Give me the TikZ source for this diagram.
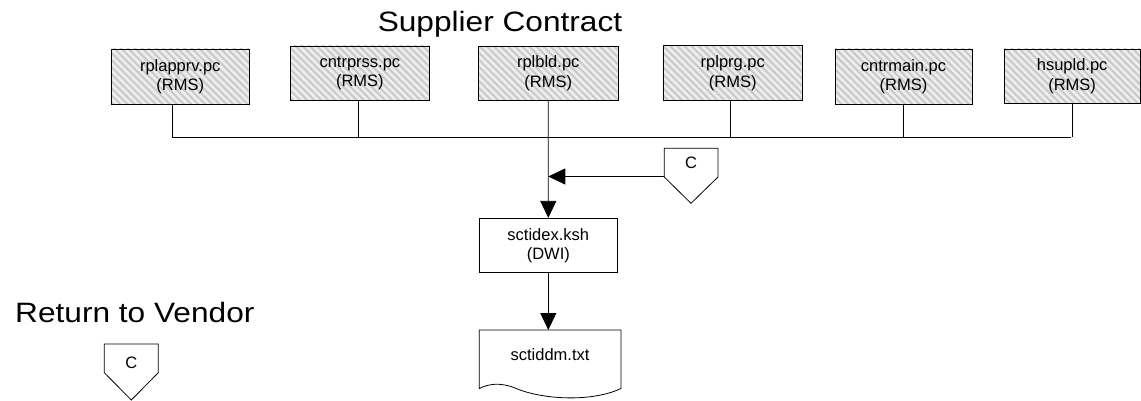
\documentclass[tikz,border=0pt]{standalone}
\usepackage{fontspec}
\setmainfont{Liberation Sans}
\newfontfamily\titlefont[FakeStretch=1.13]{Liberation Sans}
\usetikzlibrary{arrows.meta,patterns.meta}
\tikzset{
  x=1pt,y=-1pt,
  lbl/.style={font=\fontsize{16.5}{19.5}\selectfont,align=center,inner sep=0pt},
  ttl/.style={font=\titlefont\fontsize{28}{32}\selectfont,inner sep=0pt},
  hbox/.style={draw,line width=0.8pt,rectangle,inner sep=0pt,
    preaction={fill=gray!14},
    pattern={Lines[angle=-45,distance=5pt,line width=2pt]},pattern color=gray!42},
  pbox/.style={draw,line width=0.8pt,rectangle,inner sep=0pt},
  ln/.style={line width=0.8pt},
  arr/.style={line width=0.8pt,-{Triangle[length=17pt,width=16pt]}},
}
\begin{document}
\begin{tikzpicture}
\useasboundingbox (0,0) rectangle (1141,401);
% titles
\node[ttl,anchor=base] (t1) at (500,31.7) {Supplier Contract};
\node[ttl,anchor=base west] (t2) at (15,322.7) {Return to Vendor};
% program boxes
\node[hbox,minimum width=137.5,minimum height=55] (b1) at (180.25,76.5) {};
\node[lbl] at (b1) {rplapprv.pc\\(RMS)};
\node[hbox,minimum width=138.3,minimum height=54.7] (b2) at (359.85,73.35) {};
\node[lbl] at (b2) {cntrprss.pc\\(RMS)};
\node[hbox,minimum width=139.5,minimum height=53.5] (b3) at (548.25,73.25) {};
\node[lbl] at (b3) {rplbld.pc\\(RMS)};
\node[hbox,minimum width=139,minimum height=55] (b4) at (732.8,73.2) {};
\node[lbl] at (b4) {rplprg.pc\\(RMS)};
\node[hbox,minimum width=137,minimum height=55] (b5) at (903.5,76.5) {};
\node[lbl] at (b5) {cntrmain.pc\\(RMS)};
\node[hbox,minimum width=135.7,minimum height=54.3] (b6) at (1072.15,76.15) {};
\node[lbl] at (b6) {hsupld.pc\\(RMS)};
% bus
\coordinate (busL) at (172,137.5);
\coordinate (busR) at (1071,137.5);
\draw[ln] (busL) -- (busR);
\draw[ln] ([xshift=-8.25pt]b1.south) -- ([xshift=-8.25pt]b1.south |- busL);
\draw[ln] ([xshift=-1pt]b2.south) -- ([xshift=-1pt]b2.south |- busL);
\draw[ln] ([xshift=-2.8pt]b4.south) -- ([xshift=-2.8pt]b4.south |- busL);
\draw[ln] (b5.south) -- (b5.south |- busL);
\draw[ln] (b6.south) -- (b6.south |- busL);
% ksh box
\node[pbox,minimum width=138,minimum height=54.4] (ksh) at (548.3,245.5) {};
\node[lbl] at (ksh) {sctidex.ksh\\(DWI)};
\draw[arr] (b3.south) -- (ksh.north);
% document
\coordinate (dTL) at (479.3,330);
\coordinate (dTR) at (621,330);
\draw[ln] (dTL) -- (dTR) -- (621,388.5)
  .. controls (590,403) and (540,399) .. (515,388)
  .. controls (500,382) and (488,384) .. (479.3,388.5) -- cycle;
\node[lbl] (doc) at (550,354.5) {sctiddm.txt};
\draw[arr] (ksh.south) -- (ksh.south |- dTL);
% off-page connector right
\node[lbl] (cR) at (691,163) {C};
\draw[ln] (664.3,148.3) -- (718,148.3) -- (718,177) -- (691,203.3) -- (664.3,177) -- cycle;
\coordinate (cRs) at (664.3,176.5);
\draw[arr] (cRs) -- (cRs -| b3.south);
% off-page connector left
\node[lbl] (cL) at (131.3,362.5) {C};
\draw[ln] (104.3,344) -- (158.3,344) -- (158.3,372.7) -- (131.3,400) -- (104.3,372.7) -- cycle;
\end{tikzpicture}
\end{document}
